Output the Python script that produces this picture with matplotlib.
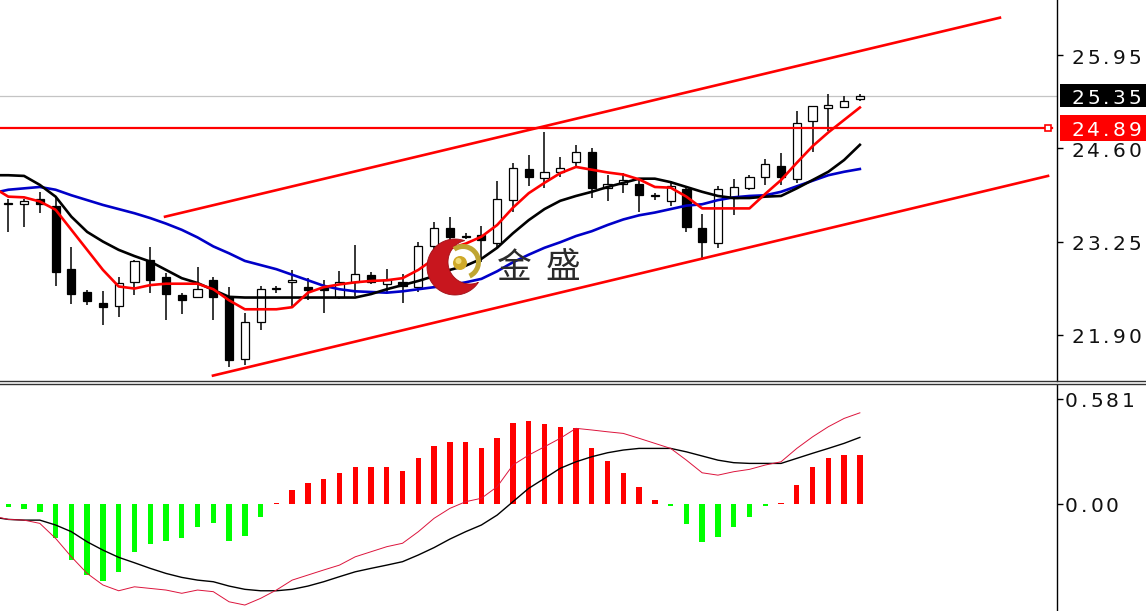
import numpy as np
import matplotlib
matplotlib.use("Agg")
import matplotlib.pyplot as plt
from matplotlib.patches import Rectangle, Polygon, Wedge, Circle

W, H, DPI = 1146, 611, 100

# ── K线数据 (55根) ──
opens  = [23.80, 23.80, 23.86, 23.77, 22.85, 22.52, 22.36, 22.32, 22.66, 22.98,
          22.73, 22.48, 22.45, 22.69, 22.45, 21.55, 22.09, 22.56, 22.67, 22.59,
          22.59, 22.45, 22.67, 22.77, 22.64, 22.67, 22.59, 23.19, 23.44, 23.32,
          23.35, 23.23, 23.85, 24.30, 24.17, 24.25, 24.40, 24.55, 24.03, 24.09,
          24.08, 23.91, 23.84, 24.01, 23.44, 23.23, 23.88, 24.02, 24.19, 24.34,
          24.16, 24.99, 25.18, 25.20, 25.31]
highs  = [23.86, 23.86, 23.97, 23.88, 23.17, 22.55, 22.54, 22.74, 22.98, 23.17,
          22.79, 22.51, 22.88, 22.74, 22.59, 22.21, 22.61, 22.61, 22.84, 22.72,
          22.69, 22.83, 23.20, 22.81, 22.85, 22.78, 23.24, 23.54, 23.61, 23.37,
          23.48, 24.13, 24.38, 24.50, 24.84, 24.47, 24.65, 24.60, 24.21, 24.24,
          24.17, 23.96, 24.13, 24.05, 23.65, 24.06, 24.15, 24.21, 24.45, 24.53,
          25.14, 25.21, 25.38, 25.35, 25.39]
lows   = [23.39, 23.46, 23.67, 22.61, 22.35, 22.33, 22.04, 22.16, 22.48, 22.51,
          22.12, 22.20, 22.43, 22.11, 21.44, 21.46, 21.97, 22.51, 22.31, 22.40,
          22.21, 22.42, 22.46, 22.64, 22.51, 22.36, 22.52, 23.10, 23.17, 23.28,
          22.96, 23.16, 23.68, 24.06, 24.02, 24.19, 24.31, 23.88, 23.84, 23.95,
          23.68, 23.85, 23.77, 23.39, 22.98, 23.15, 23.64, 24.00, 24.07, 24.07,
          24.10, 24.55, 24.85, 25.18, 25.29]
closes = [23.81, 23.83, 23.80, 22.81, 22.49, 22.39, 22.31, 22.65, 22.97, 22.69,
          22.49, 22.41, 22.56, 22.45, 21.54, 22.08, 22.57, 22.56, 22.69, 22.55,
          22.55, 22.66, 22.78, 22.67, 22.69, 22.60, 23.19, 23.44, 23.32, 23.32,
          23.27, 23.86, 24.31, 24.19, 24.25, 24.31, 24.54, 24.02, 24.09, 24.14,
          23.92, 23.91, 24.05, 23.46, 23.25, 24.01, 24.04, 24.18, 24.37, 24.18,
          24.97, 25.21, 25.23, 25.29, 25.35]

# ── 均线 (从 -1 开始, 共56点) ──
ma_red = [24.04, 23.90, 23.89, 23.83, 23.71, 23.42, 23.13, 22.84, 22.60, 22.57,
          22.62, 22.64, 22.64, 22.64, 22.56, 22.40, 22.27, 22.27, 22.27, 22.30,
          22.51, 22.59, 22.63, 22.66, 22.68, 22.69, 22.72, 22.84, 23.00, 23.15,
          23.22, 23.32, 23.49, 23.74, 23.95, 24.10, 24.24, 24.33, 24.29, 24.25,
          24.22, 24.15, 24.04, 24.03, 23.90, 23.73, 23.73, 23.73, 23.73, 23.94,
          24.14, 24.39, 24.63, 24.83, 25.01, 25.19]
ma_black = [24.21, 24.21, 24.20, 24.07, 23.90, 23.61, 23.39, 23.25, 23.13, 23.04,
            22.96, 22.84, 22.72, 22.65, 22.55, 22.45, 22.44, 22.44, 22.44, 22.44,
            22.44, 22.44, 22.44, 22.44, 22.49, 22.56, 22.62, 22.68, 22.75, 22.84,
            22.90, 23.00, 23.16, 23.37, 23.56, 23.72, 23.84, 23.91, 23.97, 24.04,
            24.10, 24.16, 24.16, 24.11, 24.04, 23.97, 23.91, 23.88, 23.88, 23.90,
            23.91, 24.02, 24.14, 24.26, 24.43, 24.65]
ma_blue = [23.95, 24.00, 24.02, 24.04, 24.00, 23.92, 23.85, 23.78, 23.72, 23.66,
           23.59, 23.51, 23.42, 23.31, 23.18, 23.08, 22.97, 22.91, 22.85, 22.77,
           22.69, 22.61, 22.56, 22.53, 22.52, 22.51, 22.53, 22.56, 22.59, 22.62,
           22.66, 22.71, 22.82, 22.95, 23.06, 23.16, 23.24, 23.33, 23.40, 23.49,
           23.57, 23.63, 23.67, 23.72, 23.77, 23.79, 23.85, 23.89, 23.91, 23.92,
           23.97, 24.05, 24.13, 24.21, 24.26, 24.30]

# ── MACD ──
macd_hist = [-0.015, -0.026, -0.042, -0.190, -0.310, -0.393, -0.424, -0.378, -0.267, -0.221,
             -0.207, -0.190, -0.127, -0.107, -0.205, -0.175, -0.074, 0.008, 0.077, 0.114,
             0.138, 0.170, 0.207, 0.207, 0.207, 0.184, 0.255, 0.323, 0.341, 0.341,
             0.310, 0.363, 0.448, 0.457, 0.443, 0.428, 0.419, 0.310, 0.240, 0.170,
             0.092, 0.022, -0.010, -0.111, -0.212, -0.184, -0.125, -0.072, -0.010, 0.005,
             0.107, 0.207, 0.255, 0.269, 0.269]
macd_dif = [-0.066, -0.085, -0.089, -0.107, -0.190, -0.292, -0.384, -0.448, -0.480, -0.458,
            -0.467, -0.476, -0.494, -0.476, -0.485, -0.541, -0.559, -0.522, -0.476, -0.421,
            -0.393, -0.365, -0.338, -0.292, -0.264, -0.236, -0.217, -0.153, -0.079, -0.024,
            0.013, 0.032, 0.096, 0.216, 0.271, 0.317, 0.364, 0.419, 0.410, 0.400,
            0.391, 0.364, 0.336, 0.308, 0.243, 0.173, 0.160, 0.179, 0.192, 0.216,
            0.234, 0.308, 0.372, 0.428, 0.474, 0.505]
macd_dea = [-0.072, -0.085, -0.089, -0.089, -0.116, -0.153, -0.209, -0.255, -0.295, -0.325,
            -0.356, -0.384, -0.406, -0.421, -0.430, -0.454, -0.472, -0.480, -0.480, -0.472,
            -0.454, -0.430, -0.402, -0.375, -0.356, -0.338, -0.319, -0.282, -0.241, -0.194,
            -0.153, -0.116, -0.061, 0.013, 0.087, 0.142, 0.198, 0.234, 0.262, 0.284,
            0.299, 0.308, 0.308, 0.308, 0.289, 0.266, 0.243, 0.229, 0.225, 0.225,
            0.225, 0.253, 0.281, 0.308, 0.336, 0.369]

price_ticks = [25.95, 24.60, 23.25, 21.90]
price_labels = ["25.95", "24.60", "23.25", "21.90"]
macd_ticks = [0.581, 0.00]
macd_labels = ["0.581", "0.00"]
last_price = 25.35
level_price = 24.89
# 通道线 (K线序号, 价格)
chan_up_x, chan_up_y = [9.94, 62.88], [23.61, 26.49]
chan_lo_x, chan_lo_y = [12.98, 65.93], [21.31, 24.20]

RED = "#ff0000"; GREEN = "#00ff00"; BLUE = "#0000c8"

fig = plt.figure(figsize=(W / DPI, H / DPI), dpi=DPI, facecolor="white")
ax = fig.add_axes([0, 1 - 381 / H, 1057 / W, 381 / H])
mx = fig.add_axes([0, 0, 1057 / W, (H - 385) / H])

xs = np.arange(len(opens))
xl = np.arange(-1, len(opens))

for a in (ax, mx):
    a.set_xlim(-0.526, 66.5)
    a.set_xticks([])
    for s in ("top", "left", "bottom"):
        a.spines[s].set_visible(False)
    a.spines["right"].set_color("black"); a.spines["right"].set_linewidth(1.0)
    a.yaxis.tick_right()
    a.tick_params(axis="y", direction="out", length=4, width=1, colors="black", labelright=False)
ax.set_ylim(21.232, 26.746)
mx.set_ylim(-0.592, 0.659)
ax.set_yticks(price_ticks)
mx.set_yticks(macd_ticks)

# ── 主图 ──
ax.axhline(last_price, color="#c4c4c4", lw=0.9, zorder=1)
bw = 0.52
for i in xs:
    o, h, l, c = opens[i], highs[i], lows[i], closes[i]
    ax.vlines(i, l, h, color="black", lw=1.1, zorder=2)
    up = c >= o
    ax.add_patch(Rectangle((i - bw / 2, min(o, c)), bw, max(abs(c - o), 0.012),
                           facecolor="white" if up else "black", edgecolor="black",
                           lw=0.9, zorder=3))
ax.plot(xl, ma_blue, color=BLUE, lw=1.9, zorder=4)
ax.plot(xl, ma_black, color="black", lw=1.9, zorder=4)
ax.plot(xl, ma_red, color=RED, lw=1.9, zorder=5)
ax.plot(chan_up_x, chan_up_y, color=RED, lw=1.9, zorder=5)
ax.plot(chan_lo_x, chan_lo_y, color=RED, lw=1.9, zorder=5)
ax.plot([-0.6, 66.2], [level_price, level_price], color=RED, lw=1.6, zorder=5)
ax.plot([65.95], [level_price], marker="s", ms=4, mfc="white", mec=RED, mew=1.2, zorder=6)

# ── MACD ──
hc = [RED if v >= 0 else GREEN for v in macd_hist]
mx.bar(xs, macd_hist, width=0.34, color=hc, zorder=2)
mx.plot(xl, macd_dea, color="black", lw=1.0, zorder=3)
mx.plot(xl, macd_dif, color="#dc143c", lw=0.7, zorder=4)

# ── 覆盖层 (像素坐标) ──
ov = fig.add_axes([0, 0, 1, 1])
ov.set_xlim(0, W); ov.set_ylim(H, 0); ov.axis("off"); ov.patch.set_alpha(0)

def py(a, v):
    return H - a.transData.transform((0, v))[1]

def put_label(y, s, color, x0, z=5):
    x = x0
    for k, ch in enumerate(s):
        ov.text(x, y + 7.5, ch, ha="center", va="baseline", fontsize=14.5,
                color=color, family="DejaVu Sans", zorder=z)
        if k < len(s) - 1:
            x += 12.6 if "." in (ch, s[k + 1]) else 15.6

for v, s in zip(price_ticks, price_labels):
    put_label(py(ax, v) + 1, s, "#111111", 1078.3)
for v, s in zip(macd_ticks, macd_labels):
    put_label(py(mx, v), s, "#111111", 1071.5)

yl = py(ax, last_price)
ov.add_patch(Rectangle((1060, yl - 12), 86, 23, facecolor="black", edgecolor="none", zorder=6))
put_label(yl, "25.35", "white", 1078.3, z=7)
yr = py(ax, level_price)
ov.add_patch(Rectangle((1060, yr - 13), 86, 26, facecolor=RED, edgecolor="none", zorder=6))
put_label(yr, "24.89", "white", 1078.3, z=7)

# 分隔线
ov.plot([0, W], [381.3, 381.3], color="#333333", lw=1.0)
ov.plot([0, W], [384.3, 384.3], color="#333333", lw=1.0)

# 金盛 logo
def crescent(co, ro, ci, ri, n=500):
    t = np.linspace(0, 2 * np.pi, n, endpoint=False)
    ox, oy = co[0] + ro * np.cos(t), co[1] + ro * np.sin(t)
    ix, iy = ci[0] + ri * np.cos(t), ci[1] + ri * np.sin(t)
    k1 = np.hypot(ox - ci[0], oy - ci[1]) > ri
    k2 = np.hypot(ix - co[0], iy - co[1]) < ro
    return np.r_[np.c_[ox[k1], oy[k1]], np.c_[ix[k2], iy[k2]][::-1]]

ov.add_patch(Polygon(crescent((455, 267), 28, (470, 262), 22), closed=True,
                     facecolor="#c8161e", edgecolor="#a01018", lw=0.6, zorder=8))
ov.add_patch(Wedge((463, 262), 18, -125, 65, width=5, facecolor="#bfa532",
                   edgecolor="none", zorder=8))
ov.add_patch(Circle((460, 263), 7, facecolor="#cfa928", edgecolor="none", zorder=9))
ov.add_patch(Circle((458.5, 261), 3, facecolor="#f0dc78", edgecolor="none", zorder=9))
ov.text(514, 268, "金", fontsize=25, family=["Noto Sans CJK SC", "DejaVu Sans"],
        color="#2b2b2b", ha="center", va="center", zorder=9)
ov.text(563, 268, "盛", fontsize=25, family=["Noto Sans CJK SC", "DejaVu Sans"],
        color="#2b2b2b", ha="center", va="center", zorder=9)

fig.savefig("out.png", dpi=DPI, facecolor="white")
